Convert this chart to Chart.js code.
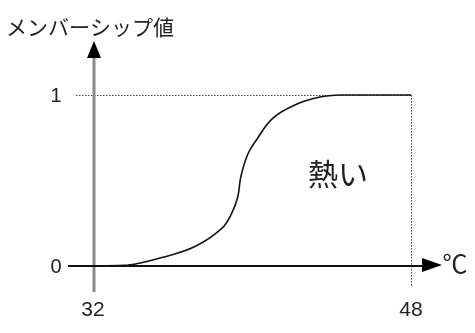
<!DOCTYPE html>
<html>
<head>
<meta charset="utf-8">
<script src="https://cdn.jsdelivr.net/npm/chart.js@4/dist/chart.umd.min.js"></script>
<style>
html,body{margin:0;padding:0;background:#fff;}
#wrap{width:475px;height:333px;position:relative;}
</style>
</head>
<body>
<div id="wrap"><canvas id="c"></canvas></div>
<script>
// Data
const tempX = [32, 33.67, 35.39, 37.06, 38.42, 38.92, 39.23, 39.38, 39.74, 40.19, 41.01, 42.23, 43.39, 44.41, 48];
const membership = [0, 0.005, 0.05, 0.114, 0.220, 0.308, 0.405, 0.52, 0.655, 0.740, 0.865, 0.947, 0.988, 1.0, 1.0];
const xTicks = [32, 48];
const yTicks = [0, 1];
const yAxisTitle = 'メンバーシップ値';
const xAxisUnit = '℃';
const setLabel = '熱い';

const points = tempX.map((x, i) => ({x: x, y: membership[i]}));

const decor = {
  id: 'decor',
  beforeDatasetsDraw(chart) {
    const ctx = chart.ctx;
    const xs = chart.scales.x, ys = chart.scales.y;
    const x0 = xs.getPixelForValue(xTicks[0]);
    const x1 = xs.getPixelForValue(xTicks[1]);
    const y0 = ys.getPixelForValue(yTicks[0]);
    const y1 = ys.getPixelForValue(yTicks[1]);
    ctx.save();
    // dotted guides
    ctx.strokeStyle = '#444';
    ctx.lineWidth = 1;
    ctx.setLineDash([1.5, 1.5]);
    ctx.beginPath();
    ctx.moveTo(x0 - 19, y1 + 0.5);
    ctx.lineTo(x1, y1 + 0.5);
    ctx.moveTo(x1 + 0.5, y1);
    ctx.lineTo(x1 + 0.5, y0 + 21);
    ctx.stroke();
    ctx.setLineDash([]);
    // y axis (gray)
    ctx.strokeStyle = '#8a8a8a';
    ctx.lineWidth = 3;
    ctx.beginPath();
    ctx.moveTo(x0 - 1, y0 + 26);
    ctx.lineTo(x0 - 1, 56);
    ctx.stroke();
    // x axis (black)
    ctx.strokeStyle = '#111';
    ctx.lineWidth = 2;
    ctx.beginPath();
    ctx.moveTo(x0 - 27, y0);
    ctx.lineTo(x1 + 12, y0);
    ctx.stroke();
    // arrow heads
    ctx.fillStyle = '#000';
    ctx.beginPath();
    ctx.moveTo(x0 - 1, 41);
    ctx.lineTo(x0 - 8, 58);
    ctx.lineTo(x0 + 6, 58);
    ctx.closePath();
    ctx.fill();
    ctx.beginPath();
    ctx.moveTo(x1 + 31, y0 - 1);
    ctx.lineTo(x1 + 11, y0 - 8);
    ctx.lineTo(x1 + 11, y0 + 6);
    ctx.closePath();
    ctx.fill();
    ctx.restore();
  },
  afterDatasetsDraw(chart) {
    const ctx = chart.ctx;
    const xs = chart.scales.x, ys = chart.scales.y;
    const x1 = xs.getPixelForValue(xTicks[1]);
    const y0 = ys.getPixelForValue(yTicks[0]);
    ctx.save();
    ctx.fillStyle = '#222';
    ctx.textBaseline = 'middle';
    ctx.textAlign = 'center';
    ctx.font = '21px "Liberation Sans", Arial, sans-serif';
    xTicks.forEach(v => {
      ctx.fillText(String(v), xs.getPixelForValue(v) - (v === xTicks[0] ? 2 : 0), y0 + 44);
    });
    ctx.font = '20px "Liberation Sans", Arial, sans-serif';
    yTicks.forEach(v => {
      ctx.fillText(String(v), 56, ys.getPixelForValue(v) + 1);
    });
    ctx.font = '21px "Noto Sans CJK JP", sans-serif';
    ctx.textAlign = 'left';
    ctx.fillText(yAxisTitle, 6, 27);
    ctx.font = '30px "Noto Sans CJK JP", sans-serif';
    ctx.textAlign = 'center';
    ctx.fillText(setLabel, 338, 174);
    ctx.font = '25px "Noto Sans CJK JP", sans-serif';
    ctx.fillText(xAxisUnit, x1 + 44, y0 - 3);
    ctx.restore();
  }
};

new Chart(document.getElementById('c'), {
  type: 'scatter',
  data: {
    datasets: [{
      data: points,
      showLine: true,
      borderColor: '#111',
      borderWidth: 1.6,
      pointRadius: 0,
      tension: 0.4,
      clip: 10
    }]
  },
  options: {
    responsive: true,
    maintainAspectRatio: false,
    animation: false,
    events: [],
    layout: { padding: { left: 95, right: 64, top: 95, bottom: 67 } },
    plugins: { legend: { display: false }, tooltip: { enabled: false } },
    scales: {
      x: { type: 'linear', min: xTicks[0], max: xTicks[1], display: false },
      y: { type: 'linear', min: yTicks[0], max: yTicks[1], display: false }
    }
  },
  plugins: [decor]
});
</script>
</body>
</html>
